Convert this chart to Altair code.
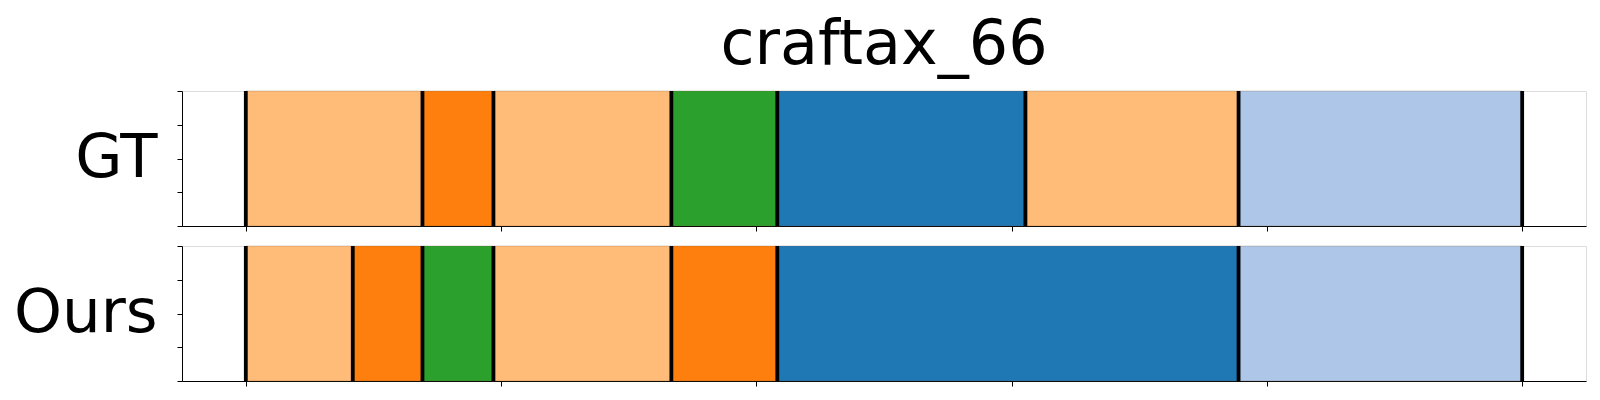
import altair as alt
import pandas as pd

# Segment boundaries (frames) and class labels
gt_bounds = [0, 69.2, 97.0, 166.7, 208.2, 305.4, 388.9, 500]
gt_labels = ["light_orange", "orange", "light_orange", "green", "blue", "light_orange", "light_blue"]

ours_bounds = [0, 41.9, 69.2, 97.0, 166.7, 208.2, 388.9, 500]
ours_labels = ["light_orange", "orange", "green", "light_orange", "orange", "blue", "light_blue"]

x_ticks = [0, 100, 200, 300, 400, 500]
y_ticks = [0, 0.25, 0.5, 0.75, 1.0]

class_domain = ["blue", "light_blue", "orange", "light_orange", "green"]
class_range = ["#1f77b4", "#aec7e8", "#ff7f0e", "#ffbb78", "#2ca02c"]

FONT = "DejaVu Sans"
W, H = 1404, 135


def panel(bounds, labels, name, title=None):
    seg = pd.DataFrame({
        "start": bounds[:-1],
        "end": bounds[1:],
        "cls": labels,
        "y0": [0.0] * len(labels),
        "y1": [1.0] * len(labels),
    })
    rules = pd.DataFrame({"b": bounds, "y0": [0.0] * len(bounds), "y1": [1.0] * len(bounds)})

    xscale = alt.Scale(domain=[-25, 525], nice=False, zero=False)
    yscale = alt.Scale(domain=[0, 1], nice=False)
    xaxis = alt.Axis(values=x_ticks, labels=False, ticks=True, tickSize=5, tickColor="black",
                     domain=True, domainColor="black", grid=False, title=None)
    yaxis = alt.Axis(values=y_ticks, labels=False, ticks=True, tickSize=5, tickColor="black",
                     labelOverlap=False, tickCount=5,
                     domain=True, domainColor="black", grid=False, title=name,
                     titleAngle=0, titleAlign="right", titleBaseline="alphabetic",
                     titleX=-25, titleY=85, titleFontSize=61, titleFont=FONT,
                     titleFontWeight="normal", titleColor="black")

    rects = alt.Chart(seg).mark_rect(strokeWidth=0.8, strokeOpacity=0.35, stroke="#7a5a3a").encode(
        x=alt.X("start:Q", scale=xscale, axis=xaxis),
        x2="end:Q",
        y=alt.Y("y0:Q", scale=yscale, axis=yaxis),
        y2="y1:Q",
        color=alt.Color("cls:N", scale=alt.Scale(domain=class_domain, range=class_range), legend=None),
    )
    lines = alt.Chart(rules).mark_rule(color="black", strokeWidth=3.8).encode(
        x=alt.X("b:Q", scale=xscale),
        y=alt.Y("y0:Q", scale=yscale),
        y2="y1:Q",
    )
    props = dict(width=W, height=H)
    if title is not None:
        props["title"] = alt.Title(text=title, fontSize=62, font=FONT, fontWeight="normal",
                                   color="black", anchor="middle", frame="group",
                                   offset=12)
    return alt.layer(rects, lines).properties(**props)


chart = alt.vconcat(
    panel(gt_bounds, gt_labels, "GT", title="craftax_66"),
    panel(ours_bounds, ours_labels, "Ours"),
    spacing=11,
).properties(
    padding={"left": 4, "top": 5, "right": 5, "bottom": 5}
).configure_view(
    stroke="black", strokeWidth=1.2
).configure(background="white")

chart.save("out.html", embed_options={"renderer": "svg", "actions": False})
